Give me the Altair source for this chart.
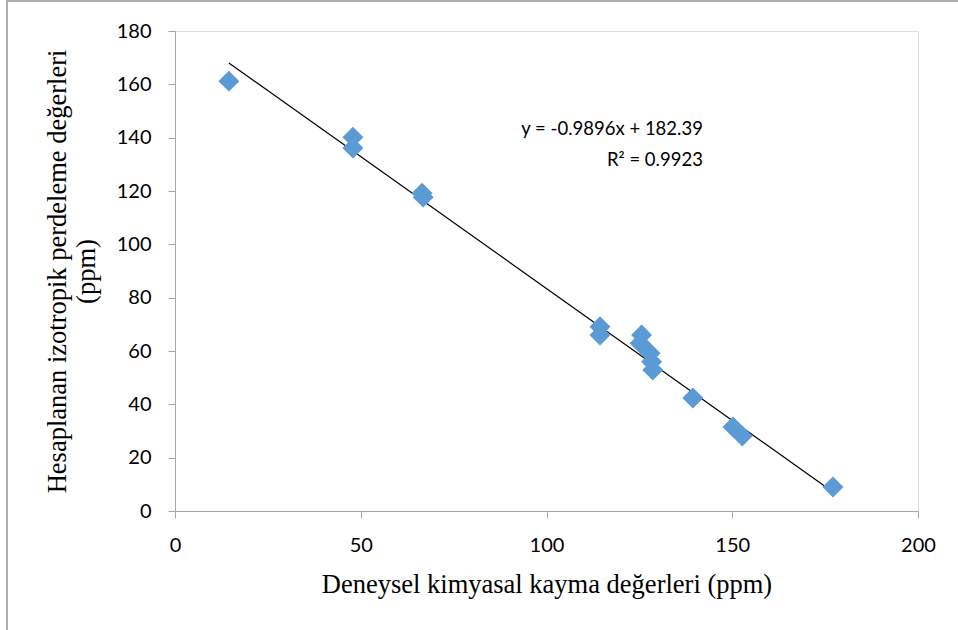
import altair as alt
import pandas as pd

# Experimental chemical shifts vs. calculated isotropic shielding values (ppm)
x_vals = [14.5, 47.9, 47.9, 66.5, 66.8, 114.4, 114.4, 125.6, 125.2, 127.9,
          128.3, 128.6, 139.4, 150.2, 152.7, 177.1]
y_vals = [161.2, 140.2, 136.1, 119.2, 117.7, 69.1, 66.0, 66.0, 62.9, 59.2,
          56.0, 52.9, 42.4, 31.5, 28.1, 9.0]

# Linear trendline
slope = -0.9896
intercept = 182.39
r_squared = 0.9923
eq_lines = ["y = -0.9896x + 182.39", "R\u00b2 = 0.9923"]
eq_x = [142.1, 142.1]
eq_y = [143.2, 131.6]

x_title = "Deneysel kimyasal kayma değerleri (ppm)"
y_title = ["Hesaplanan izotropik perdeleme değerleri", "(ppm)"]

points = pd.DataFrame({"x": x_vals, "y": y_vals})
x_ends = [min(x_vals), max(x_vals)]
trend = pd.DataFrame({"x": x_ends, "y": [slope * v + intercept for v in x_ends]})
labels = pd.DataFrame({"x": eq_x, "y": eq_y, "t": eq_lines})

axis_common = dict(
    domainColor="#a6a6a6", tickColor="#a6a6a6", grid=False,
    labelFont="Lato", labelFontSize=20, labelColor="#000000",
    titleFont="Liberation Serif", titleFontSize=26.5, titleFontWeight="normal",
    titleColor="#000000", tickSize=7, labelFlush=False,
)

x_enc = alt.X("x:Q", scale=alt.Scale(domain=[0, 200], nice=False),
              axis=alt.Axis(values=[0, 50, 100, 150, 200], title=x_title,
                            labelPadding=17, titlePadding=16, **axis_common))
y_enc = alt.Y("y:Q", scale=alt.Scale(domain=[0, 180], nice=False),
              axis=alt.Axis(values=list(range(0, 181, 20)), title=y_title,
                            labelPadding=17, titlePadding=16, **axis_common))

scatter = alt.Chart(points).mark_point(
    shape="diamond", filled=True, size=440, color="#5B9BD5", opacity=1
).encode(x=x_enc, y=y_enc)

line = alt.Chart(trend).mark_line(color="#000000", strokeWidth=1.2).encode(
    x="x:Q", y="y:Q")

eq_text = alt.Chart(labels).mark_text(
    align="right", baseline="middle", font="Lato", fontSize=18.5, color="#000000"
).encode(x="x:Q", y="y:Q", text="t:N")

# Outer frame edges (top and left)
frame_left = alt.Chart(points).mark_rule(color="#b0b0b0", strokeWidth=2).encode(
    x=alt.value(-168), y=alt.value(-31), y2=alt.value(620))
frame_top = alt.Chart(points).mark_rule(color="#b0b0b0", strokeWidth=2).encode(
    x=alt.value(-168), x2=alt.value(800), y=alt.value(-30))

chart = alt.layer(line, scatter, eq_text, frame_left, frame_top).properties(
    width=743, height=480,
    autosize=alt.AutoSizeParams(type="none"),
    padding={"left": 175, "top": 31, "right": 40, "bottom": 119},
).configure_view(stroke=None).configure(background="#ffffff")

chart.save("out.html", embed_options={"renderer": "svg", "actions": False})
